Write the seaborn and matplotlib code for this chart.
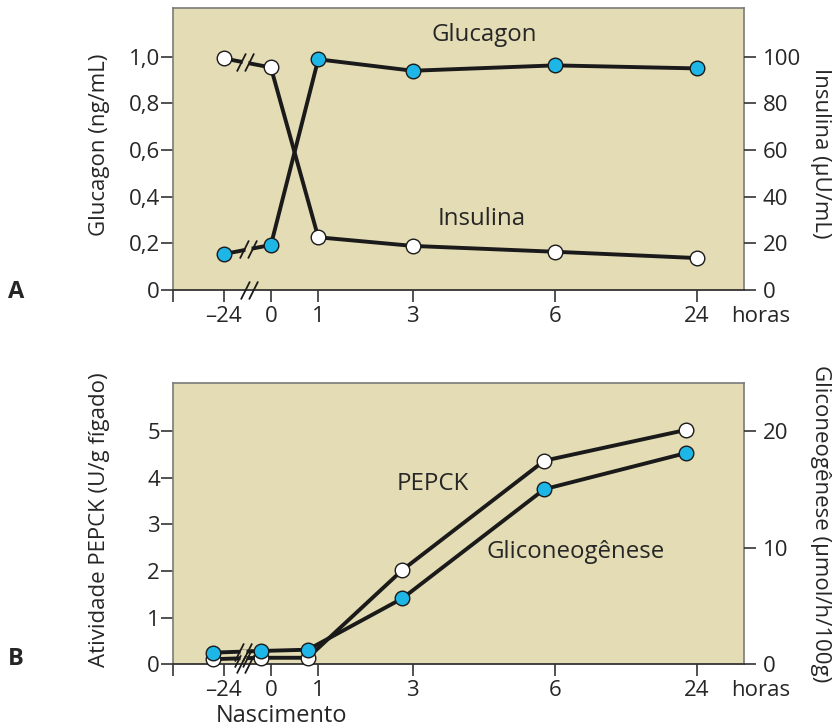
import numpy as np
import matplotlib.pyplot as plt
import seaborn as sns
from matplotlib.path import Path

# data
hours = ["–24", "0", "1", "3", "6", "24"]
hour_pos = [0, 1, 2, 4, 7, 10]          # uneven spacing of the time axis

glucagon = [0.154, 0.193, 0.989, 0.94, 0.963, 0.95]     # ng/mL (left, A)
insulina = [99.3, 95.4, 22.6, 18.9, 16.4, 13.7]         # µU/mL (right, A)
pepck = [0.11, 0.14, 0.14, 2.02, 4.36, 5.02]            # U/g (left, B)
gliconeo = [1.0, 1.14, 1.25, 5.65, 15.0, 18.1]          # µmol/h/100g (right, B)

BG = "#E3DCB4"
BLUE = "#1DB6E6"
INK = "#1a1a1a"
FS = 16        # ticks and axis labels
FS_NOTE = 17.3  # in-plot series names

sns.set_theme(style="ticks")
plt.rcParams["font.family"] = ["Open Sans", "DejaVu Sans"]
plt.rcParams["font.size"] = FS

fig = plt.figure(figsize=(8.33, 7.27), dpi=100)
W, H = 833, 727
axA = fig.add_axes([173 / W, 1 - 290 / H, 571 / W, 282 / H])
axB = fig.add_axes([173 / W, 1 - 664.3 / H, 571 / W, 281.6 / H])

XMIN, XMAX = -1.07, 11.0

# break mark "//" as a marker path
brk_path = Path([(-0.95, -1), (0.05, 1), (-0.05, -1), (0.95, 1)],
                [Path.MOVETO, Path.LINETO, Path.MOVETO, Path.LINETO])


def break_mark(ax, x, y, gap=True):
    if gap:
        ax.plot(x, y, marker="s", markersize=5, mfc=BG, mec="none",
                zorder=4, clip_on=False)
    ax.plot(x, y, marker=brk_path, markersize=13, mfc="none", mec=INK,
            mew=1.3, zorder=5, clip_on=False)


def series(ax, x, y, face):
    sns.lineplot(x=x, y=y, ax=ax, color=INK, lw=2.8, marker="o",
                 markersize=10.5, markerfacecolor=face, markeredgecolor=INK,
                 markeredgewidth=1.0, zorder=3, clip_on=False)


def style(ax, ax2):
    ax.set_facecolor(BG)
    for s in ["top", "right", "left"]:
        ax.spines[s].set_color("#7a7a7a")
        ax.spines[s].set_linewidth(1.2)
    ax.spines["bottom"].set_color("#333333")
    ax.spines["bottom"].set_linewidth(1.3)
    for s in ax2.spines.values():
        s.set_visible(False)
    ax.set_xlim(XMIN, XMAX)
    ax.set_xticks([XMIN] + hour_pos)
    ax.set_xticklabels([""] + hours)
    ax.tick_params(axis="x", direction="out", length=8.5, width=1.2,
                   color="#333333", pad=3, labelsize=FS)
    ax.tick_params(axis="y", direction="out", length=8.5, width=1.2,
                   color="#333333", pad=1, labelsize=FS)
    ax2.tick_params(axis="y", direction="out", length=8.5, width=1.2,
                    color="#333333", pad=5, labelsize=FS)
    ax.set_xlabel("")


# ---- Panel A
axA2 = axA.twinx()
style(axA, axA2)
axA.set_ylim(0, 1.209)
axA2.set_ylim(0, 120.9)
axA.set_yticks(np.arange(0, 1.01, 0.2))
axA.set_yticklabels(["0", "0,2", "0,4", "0,6", "0,8", "1,0"])
axA2.set_yticks(range(0, 101, 20))

series(axA, hour_pos, glucagon, BLUE)
series(axA2, hour_pos, insulina, "white")

break_mark(axA, 0.51, np.interp(0.51, hour_pos[:2], glucagon[:2]))
break_mark(axA2, 0.45, np.interp(0.45, hour_pos[:2], insulina[:2]))
break_mark(axA, 0.53, 0, gap=False)

axA.text(5.5, 1.093, "Glucagon", ha="center", va="center", fontsize=FS_NOTE)
axA.text(5.45, 0.304, "Insulina", ha="center", va="center", fontsize=FS_NOTE)

axA.set_ylabel("Glucagon (ng/mL)", va="center", fontsize=FS)
axA.yaxis.set_label_coords(-0.128, 0.516)
axA2.set_ylabel("Insulina (µU/mL)", rotation=270, va="center", fontsize=FS)
axA2.yaxis.set_label_coords(1.134, 0.486)

# ---- Panel B
shift = -0.22
posB = [p + shift for p in hour_pos]
axB2 = axB.twinx()
style(axB, axB2)
axB.set_ylim(0, 6.03)
axB2.set_ylim(0, 24.12)
axB.set_yticks(range(0, 6))
axB2.set_yticks([0, 10, 20])

series(axB, posB, pepck, "white")
series(axB2, posB, gliconeo, BLUE)

break_mark(axB, 0.41, np.interp(0.41, posB[:2], pepck[:2]))
break_mark(axB2, 0.41, np.interp(0.41, posB[:2], gliconeo[:2]))
break_mark(axB, 0.45, 0, gap=False)

axB.text(4.42, 3.86, "PEPCK", ha="center", va="center", fontsize=FS_NOTE)
axB.text(7.45, 2.41, "Gliconeogênese", ha="center", va="center",
         fontsize=FS_NOTE)

axB.set_ylabel("Atividade PEPCK (U/g fígado)", va="center", fontsize=FS)
axB.yaxis.set_label_coords(-0.128, 0.512)
axB2.set_ylabel("Gliconeogênese (µmol/h/100g)", rotation=270, va="center",
                fontsize=FS)
axB2.yaxis.set_label_coords(1.134, 0.498)

# extra labels
fig.text(761 / W, 1 - 317 / H, "horas", ha="center", va="center", fontsize=FS)
fig.text(761 / W, 1 - 691 / H, "horas", ha="center", va="center", fontsize=FS)
fig.text(281 / W, 1 - 716 / H, "Nascimento", ha="center", va="center",
         fontsize=17)
fig.text(16 / W, 1 - 292 / H, "A", ha="center", va="center", fontsize=17,
         fontweight="bold")
fig.text(16 / W, 1 - 659 / H, "B", ha="center", va="center", fontsize=17,
         fontweight="bold")

fig.savefig("out.png", dpi=100)
